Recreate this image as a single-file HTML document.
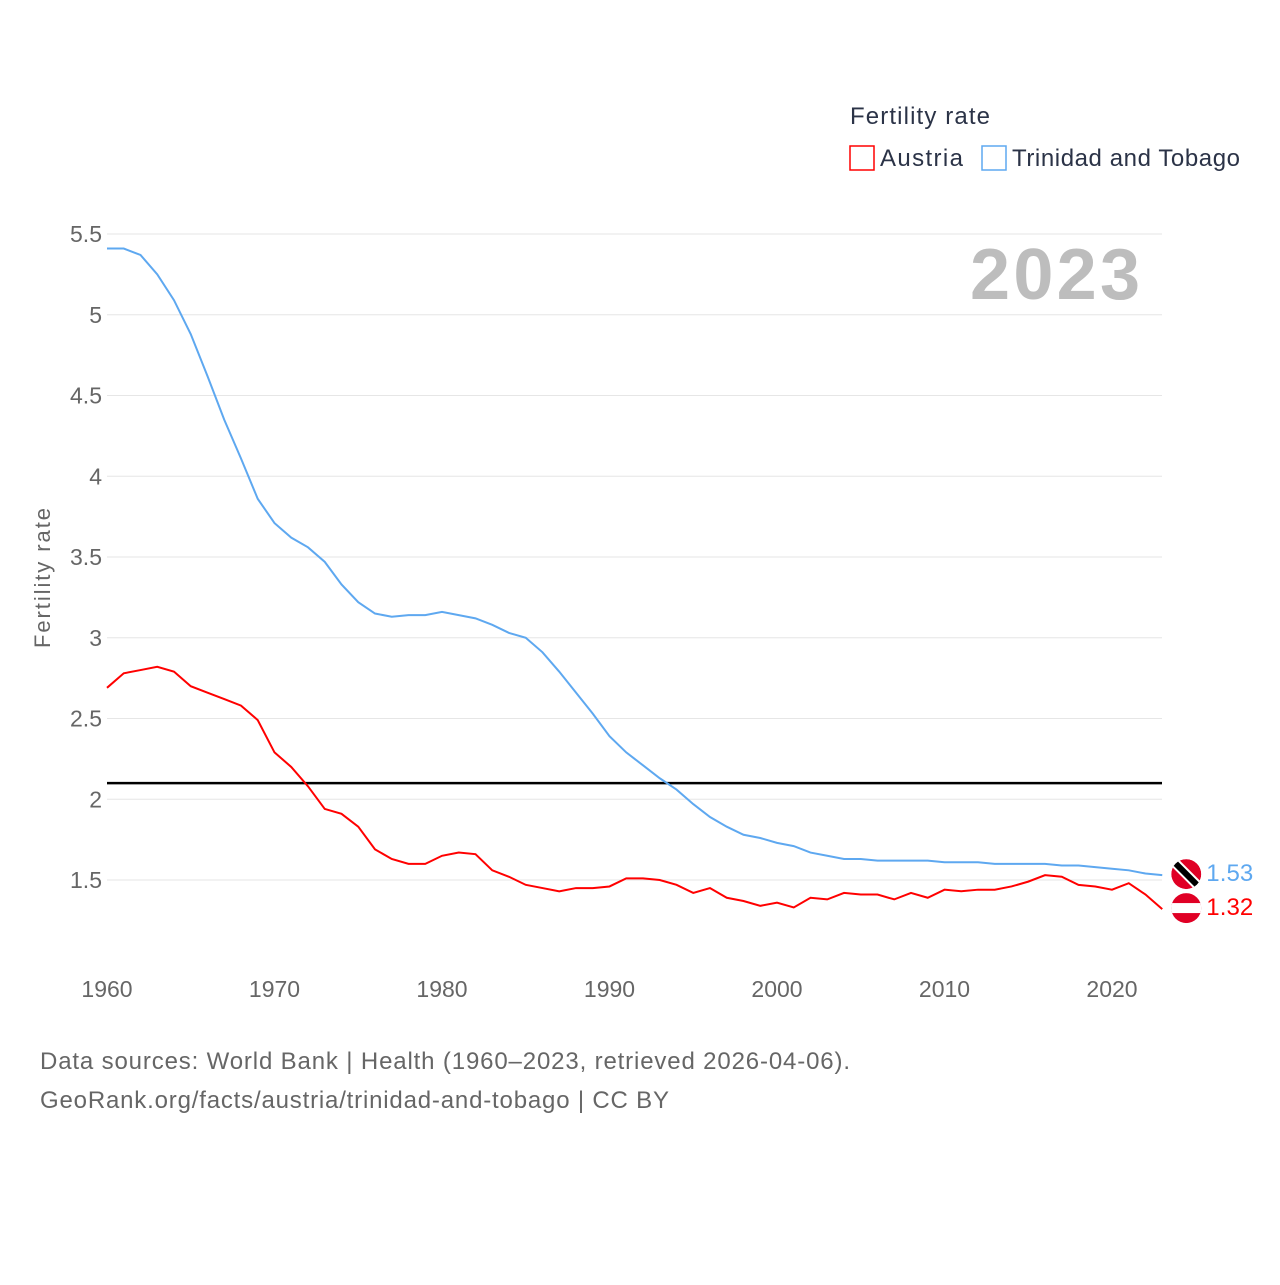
<!DOCTYPE html>
<html><head><meta charset="utf-8"><style>
body{margin:0;background:#fff;font-family:"Liberation Sans",sans-serif;}
svg text{font-family:"Liberation Sans",sans-serif;}
</style></head><body>
<svg id="chart" width="1280" height="1280" xmlns="http://www.w3.org/2000/svg">
<text x="850" y="124" font-size="24" fill="#2b3347" textLength="140">Fertility rate</text>
<g><rect x="850" y="146" width="24" height="24" fill="none" stroke="#f00" stroke-width="1.5"/><text x="880" y="166" font-size="24" fill="#2b3347" textLength="83">Austria</text></g>
<g><rect x="982" y="146" width="24" height="24" fill="none" stroke="#5ea8f0" stroke-width="1.5"/><text x="1012" y="166" font-size="24" fill="#2b3347" textLength="228">Trinidad and Tobago</text></g>
<text x="1140" y="299" font-size="72" font-weight="bold" fill="#bdbdbd" text-anchor="end" textLength="170">2023</text>
<text transform="translate(50,578) rotate(-90)" font-size="22" fill="#666" text-anchor="middle" textLength="140">Fertility rate</text>
<g id="grid"></g><g id="series"></g>
<text x="40" y="1069" font-size="24" fill="#666" textLength="810">Data sources: World Bank | Health (1960–2023, retrieved 2026-04-06).</text>
<text x="40" y="1108" font-size="24" fill="#666" textLength="629">GeoRank.org/facts/austria/trinidad-and-tobago | CC BY</text>
</svg>
<script>
const years=[];for(let y=1960;y<=2023;y++)years.push(y);
const trinidad=[5.41,5.41,5.37,5.25,5.09,4.88,4.62,4.35,4.11,3.86,3.71,3.62,3.56,3.47,3.33,3.22,3.15,3.13,3.14,3.14,3.16,3.14,3.12,3.08,3.03,3.00,2.91,2.79,2.66,2.53,2.39,2.29,2.21,2.13,2.06,1.97,1.89,1.83,1.78,1.76,1.73,1.71,1.67,1.65,1.63,1.63,1.62,1.62,1.62,1.62,1.61,1.61,1.61,1.60,1.60,1.60,1.60,1.59,1.59,1.58,1.57,1.56,1.54,1.53];
const austria=[2.69,2.78,2.80,2.82,2.79,2.70,2.66,2.62,2.58,2.49,2.29,2.20,2.08,1.94,1.91,1.83,1.69,1.63,1.60,1.60,1.65,1.67,1.66,1.56,1.52,1.47,1.45,1.43,1.45,1.45,1.46,1.51,1.51,1.50,1.47,1.42,1.45,1.39,1.37,1.34,1.36,1.33,1.39,1.38,1.42,1.41,1.41,1.38,1.42,1.39,1.44,1.43,1.44,1.44,1.46,1.49,1.53,1.52,1.47,1.46,1.44,1.48,1.41,1.32];
const yTicks=[1.5,2,2.5,3,3.5,4,4.5,5,5.5];
const yTickLabels=["1.5","2","2.5","3","3.5","4","4.5","5","5.5"];
const xTicks=[1960,1970,1980,1990,2000,2010,2020];
const replacement=2.1;
const NS="http://www.w3.org/2000/svg";
const X=yr=>107+(yr-1960)*16.75;
const Y=v=>880-(v-1.5)*161.5;
function mk(tag,attrs,parent){const e=document.createElementNS(NS,tag);for(const k in attrs)e.setAttribute(k,attrs[k]);parent.appendChild(e);return e;}
const g=document.getElementById('grid'),s=document.getElementById('series');
yTicks.forEach((v,i)=>{
 const l=mk('line',{x1:107,x2:1162,y1:Y(v),y2:Y(v),stroke:'#e6e6e6','stroke-width':1},g);
 
 
 const t=mk('text',{x:102,y:Y(v)+8,'font-size':23,fill:'#666','text-anchor':'end'},g);t.textContent=yTickLabels[i];
 
 
});
xTicks.forEach(v=>{
 const t=mk('text',{x:X(v),y:997,'font-size':23,fill:'#666','text-anchor':'middle'},g);t.textContent=v;
 
 
});
const rl=mk('line',{x1:107,x2:1162,y1:Y(replacement),y2:Y(replacement),stroke:'#000','stroke-width':2.5},s);


function line(data,color,name){
 const p=mk('polyline',{points:data.map((v,i)=>X(years[i])+','+Y(v)).join(' '),fill:'none',stroke:color,'stroke-width':2},s);
 
 
}
line(trinidad,'#5ea8f0','trinidad-line');
line(austria,'#f00','austria-line');
const lx=X(2023)+24;
const tv=trinidad[trinidad.length-1],av=austria[austria.length-1];
const ty=Math.min(Y(tv),Y(av)-35),ay=Y(av)-1;
const cp=mk('clipPath',{id:'c1'},s);mk('circle',{cx:lx,cy:ty,r:15},cp);
const ft=mk('g',{'clip-path':'url(#c1)'},s);


mk('circle',{cx:lx,cy:ty,r:15,fill:'#e00025'},ft);
mk('line',{x1:lx-15,y1:ty-15,x2:lx+15,y2:ty+15,stroke:'#fff','stroke-width':10},ft);
mk('line',{x1:lx-15,y1:ty-15,x2:lx+15,y2:ty+15,stroke:'#000','stroke-width':6},ft);
const cp2=mk('clipPath',{id:'c2'},s);mk('circle',{cx:lx,cy:ay,r:15},cp2);
const fa=mk('g',{'clip-path':'url(#c2)'},s);


mk('rect',{x:lx-15,y:ay-15,width:30,height:30,fill:'#e00025'},fa);
mk('rect',{x:lx-15,y:ay-5,width:30,height:10,fill:'#fff'},fa);
const t1=mk('text',{x:lx+20,y:ty+7,'font-size':24,fill:'#5ea8f0',textLength:47},s);t1.textContent=tv.toFixed(2);


const t2=mk('text',{x:lx+20,y:ay+7,'font-size':24,fill:'#f00',textLength:47},s);t2.textContent=av.toFixed(2);


</script>
</body></html>
